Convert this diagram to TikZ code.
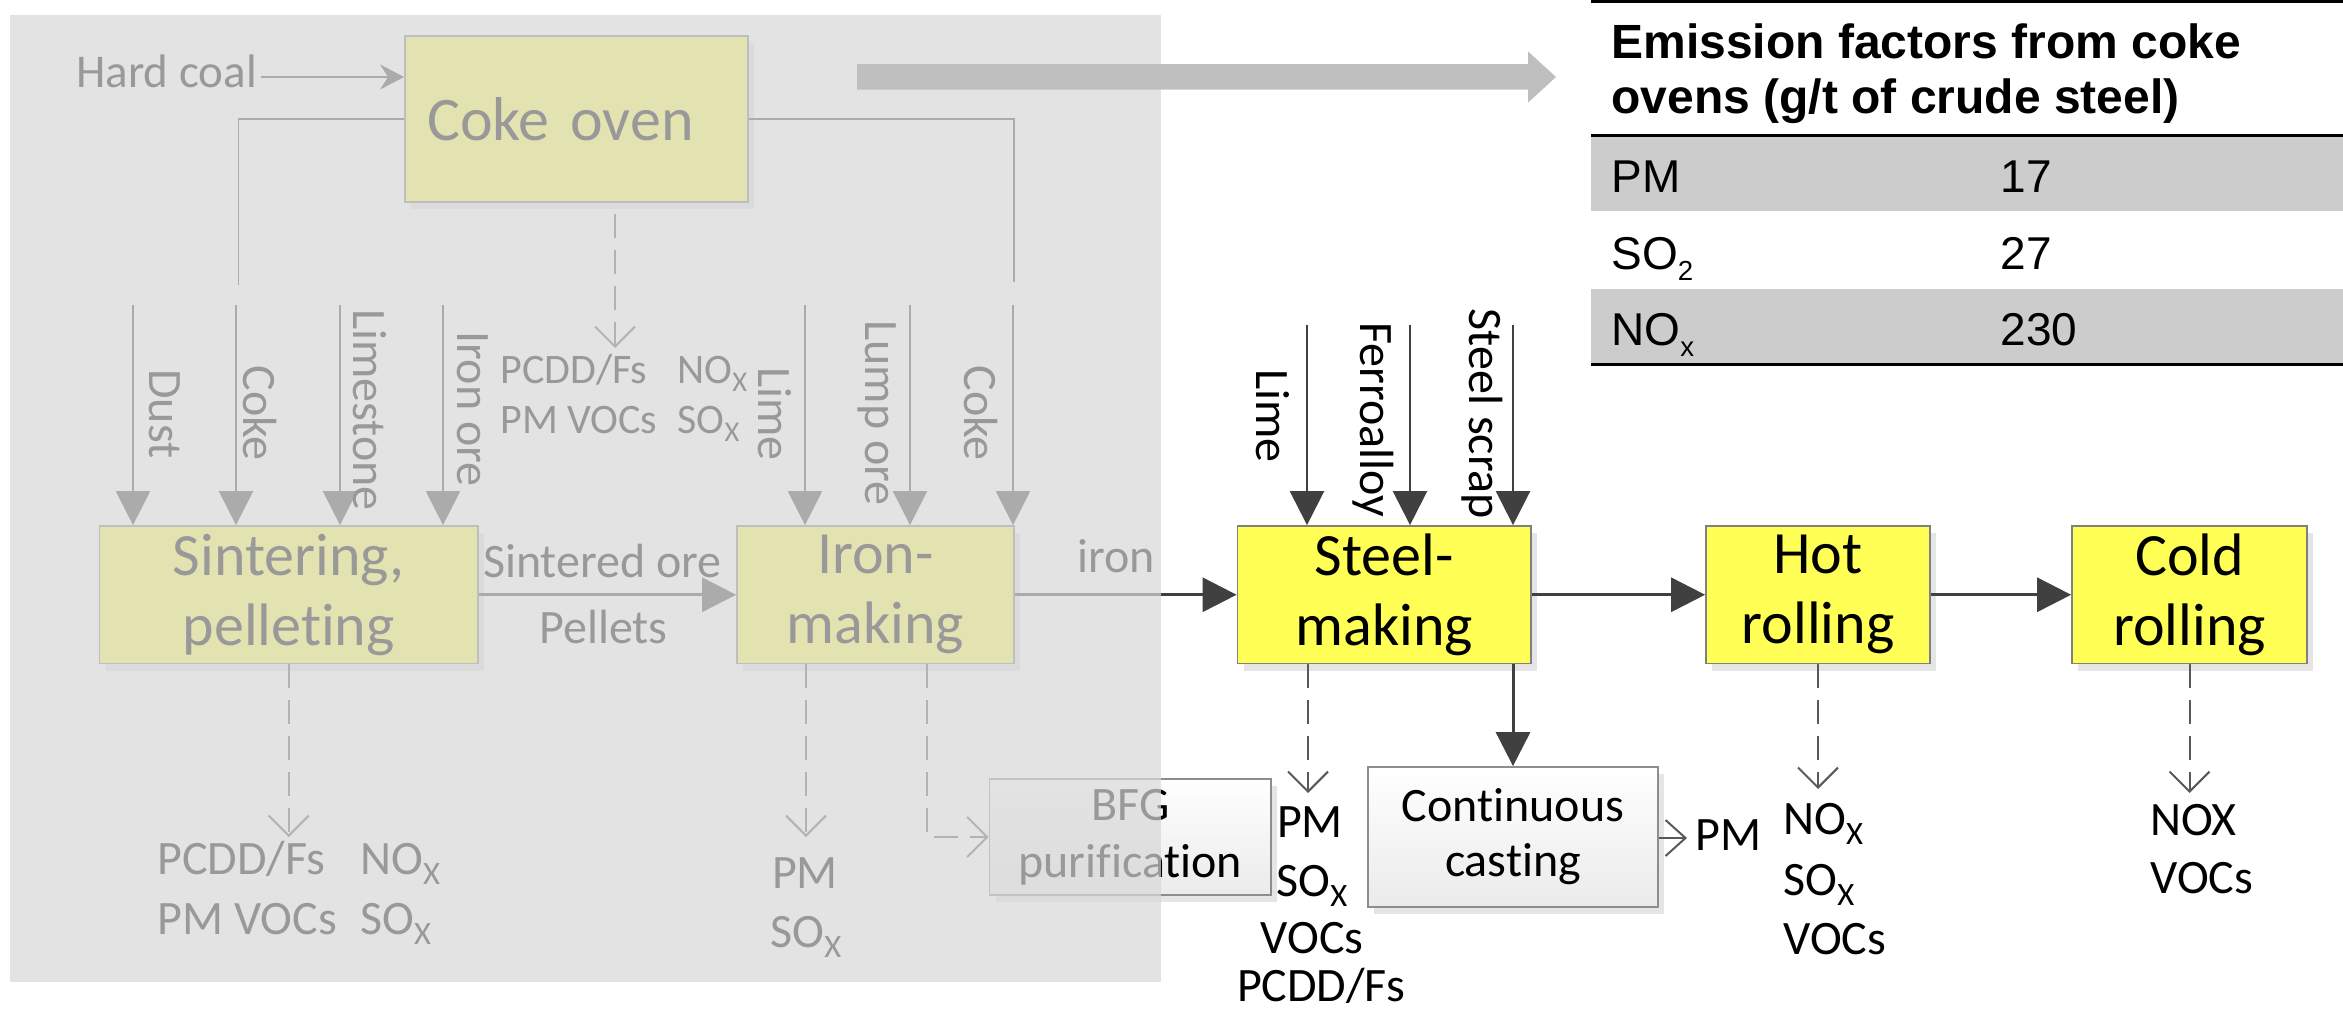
\documentclass[tikz,border=0pt]{standalone}
\usepackage{fontspec}
\usepackage{graphicx}
\setmainfont{Carlito}[Ligatures=CommonOff]
\newfontfamily\arialf{Liberation Sans}
\usetikzlibrary{arrows.meta,shadows}
\definecolor{boxyellow}{RGB}{255,255,85}
\definecolor{boxline}{RGB}{128,128,128}
\definecolor{flowc}{RGB}{64,64,64}
\definecolor{dashc}{RGB}{89,89,89}
\definecolor{veil}{RGB}{216,216,216}
\definecolor{bigarrow}{RGB}{191,191,191}
\definecolor{rowgray}{RGB}{204,204,204}
\newcommand\subX[1]{\raisebox{-0.21em}{\scalebox{0.68}{#1}}}
\newcommand\subT[1]{\raisebox{-0.25em}{\scalebox{0.6}{#1}}}
\begin{document}
\begin{tikzpicture}[x=0.5pt,y=-0.5pt,
  procbox/.style={draw=boxline, line width=0.9pt, fill=boxyellow, align=center, inner sep=0pt,
     font=\fontsize{30pt}{35pt}\selectfont, minimum height=68.75pt,
     drop shadow={shadow xshift=3pt, shadow yshift=-3.5pt, fill=black, opacity=0.1}},
  greybox/.style={draw=boxline!90, line width=0.9pt, top color=white, bottom color=black!8,
     align=center, inner sep=0pt,
     drop shadow={shadow xshift=3pt, shadow yshift=-3.5pt, fill=black, opacity=0.1}},
  lbl/.style={inner sep=0pt, font=\fontsize{24pt}{29pt}\selectfont},
  smlbl/.style={inner sep=0pt, font=\fontsize{21pt}{25pt}\selectfont},
  rlbl/.style={lbl, rotate=-90},
  flow/.style={draw=flowc, line width=1.5pt, -{Triangle[length=17pt,width=17pt]}},
  feed/.style={draw=flowc, line width=1.2pt, -{Triangle[length=17pt,width=17pt]}},
  coalarrow/.style={draw=flowc, line width=1pt, -{Stealth[length=12pt,width=12.5pt,inset=4pt]}},
  thinline/.style={draw=flowc, line width=0.8pt},
  emis/.style={draw=dashc, line width=1pt, dash pattern=on 12pt off 6pt,
     -{Straight Barb[length=10pt,width=20pt]}},
  emissolid/.style={draw=dashc, line width=1pt, -{Straight Barb[length=10pt,width=18pt]}},
  thead/.style={inner sep=0pt, font=\arialf\bfseries\fontsize{24pt}{28pt}\selectfont},
  trow/.style={inner sep=0pt, font=\arialf\fontsize{23pt}{27pt}\selectfont}
]
% canvas
\fill[white] (0,0) rectangle (2343,1013);
\useasboundingbox (0,0) rectangle (2343,1013);

% ---------------- table ----------------
\fill[rowgray] (1591,135) rectangle (2343,211);
\fill[rowgray] (1591,288.5) rectangle (2343,364);
\draw[line width=1.5pt] (1591,1.5) -- (2343,1.5);
\draw[line width=1.5pt] (1591,135) -- (2343,135);
\draw[line width=1.5pt] (1591,364) -- (2343,364);
\node[thead, anchor=base west] (th1) at (1611,58) {Emission factors from coke};
\node[thead, anchor=base west] (th2) at (1611,113) {ovens (g/t of crude steel)};
\node[trow, anchor=base west] (r1a) at (1611,192) {PM};
\node[trow, anchor=base west] (r1b) at (2000,192) {17};
\node[trow, anchor=base west] (r2a) at (1611,269) {SO\subT{2}};
\node[trow, anchor=base west] (r2b) at (2000,269) {27};
\node[trow, anchor=base west] (r3a) at (1611,345) {NO\subT{x}};
\node[trow, anchor=base west] (r3b) at (2000,345) {230};

% ---------------- process boxes ----------------
\node[procbox, minimum width=171.5pt, minimum height=83pt, text width=149.5pt, align=left,
      inner xsep=11pt, font=\fontsize{31pt}{36pt}\selectfont] (coke) at (576.5,119) {Coke oven};
\node[procbox, minimum width=189.25pt] (sint) at (288.75,594.75) {Sintering,\\pelleting};
\node[procbox, minimum width=138.5pt] (iron) at (875.5,594.75) {Iron-\\making};
\node[procbox, minimum width=146.75pt] (steel) at (1384.25,594.75) {Steel-\\making};
\node[procbox, minimum width=112pt] (hot) at (1818,594.75) {Hot\\rolling};
\node[procbox, minimum width=117.5pt] (cold) at (2189.5,594.75) {Cold\\rolling};
\node[greybox, minimum width=145pt, minimum height=70pt, font=\fontsize{24pt}{27.5pt}\selectfont]
      (cc) at (1513,837) {Continuous\\casting};
\node[greybox, minimum width=140.75pt, minimum height=58pt, font=\fontsize{24pt}{28.5pt}\selectfont]
      (bfg) at (1130.25,837) {BFG\\purification};

% ---------------- hard coal & coke distribution ----------------
\node[lbl, anchor=base west, font=\fontsize{23.5pt}{28pt}\selectfont] (hardcoal) at (76,87) {Hard coal};
\coordinate (hc) at (261,77);
\draw[coalarrow] (hc) -- (hc -| coke.west);
\coordinate (cl1) at (238.5,119);
\coordinate (cl2) at (238.5,285);
\coordinate (cr1) at (1014,119);
\coordinate (cr2) at (1014,282);
\draw[thinline] (coke.west) -- (cl1) -- (cl2);
\draw[thinline] (coke.east) -- (cr1) -- (cr2);

% ---------------- feed arrows ----------------
\foreach \nm/\xx in {fDust/133,fCoke/236,fLime/340,fOre/443}{
  \coordinate (\nm) at (\xx,305);
  \draw[feed] (\nm) -- (\nm |- sint.north);
}
\foreach \nm/\xx in {gLime/805,gLump/910,gCoke/1013}{
  \coordinate (\nm) at (\xx,305);
  \draw[feed] (\nm) -- (\nm |- iron.north);
}
\foreach \nm/\xx in {sLime/1307,sFerro/1410,sScrap/1513}{
  \coordinate (\nm) at (\xx,325);
  \draw[feed] (\nm) -- (\nm |- steel.north);
}
\node[rlbl] (tDust) at (165,414) {Dust};
\node[rlbl] (tCoke) at (260,413) {Coke};
\node[rlbl] (tLimestone) at (370,410) {Limestone};
\node[rlbl] (tIronore) at (473,409) {Iron ore};
\node[rlbl] (tLime) at (775,414) {Lime};
\node[rlbl] (tLump) at (877,413) {Lump ore};
\node[rlbl] (tCoke2) at (981,413) {Coke};
\node[rlbl] (tLime2) at (1273,416) {Lime};
\node[rlbl] (tFerro) at (1373,420) {Ferroalloy};
\node[rlbl] (tScrap) at (1482,414) {Steel scrap};

% ---------------- main flow ----------------
\draw[flow] (sint.east) -- (iron.west);
\draw[flow] (iron.east) -- (steel.west);
\draw[flow] (steel.east) -- (hot.west);
\draw[flow] (hot.east) -- (cold.west);
\draw[flow] (steel.south -| cc.north) -- (cc.north);
\node[lbl, anchor=base] (tSintered) at (602.5,577) {Sintered ore};
\node[lbl, anchor=base] (tPellets) at (603.5,643) {Pellets};
\node[lbl, anchor=base west] (tIron) at (1077,572) {iron};

% ---------------- emissions ----------------
\coordinate (cokeDs) at (615,214);
\coordinate (cokeEm) at (615,348);
\draw[emis] (cokeDs) -- (cokeEm);
\node[smlbl, anchor=base west] (ce1) at (500,383) {PCDD/Fs};
\node[smlbl, anchor=base west] (ce2) at (677,383) {NO\subX{X}};
\node[smlbl, anchor=base west] (ce3) at (500,433) {PM VOCs};
\node[smlbl, anchor=base west] (ce4) at (677,433) {SO\subX{X}};

\coordinate (sintEm) at (288.75,837);
\draw[emis] (sint.south) -- (sintEm);
\node[lbl, anchor=base west] (se1) at (157,874) {PCDD/Fs};
\node[lbl, anchor=base west] (se2) at (360,874) {NO\subX{X}};
\node[lbl, anchor=base west] (se3) at (157,934) {PM VOCs};
\node[lbl, anchor=base west] (se4) at (360,934) {SO\subX{X}};

\coordinate (ironD1) at (806,663.5);
\coordinate (ironEm) at (806,837);
\draw[emis] (ironD1) -- (ironEm);
\node[lbl, anchor=base] (ie1) at (805,888) {PM};
\node[lbl, anchor=base] (ie2) at (806,947) {SO\subX{X}};
\coordinate (ironD2) at (927,663.5);
\draw[emis] (ironD2) |- (bfg.west);

\coordinate (steelD) at (1308,663.5);
\coordinate (steelEm) at (1308,793);
\draw[emis] (steelD) -- (steelEm);
\node[lbl, anchor=base] (st1) at (1310,837) {PM};
\node[lbl, anchor=base] (st2) at (1312,896) {SO\subX{X}};
\node[lbl, anchor=base] (st3) at (1312,953) {VOCs};
\node[lbl, anchor=base] (st4) at (1321,1001) {PCDD/Fs};

\coordinate (hotEm) at (1818,789);
\draw[emis] (hot.south) -- (hotEm);
\node[lbl, anchor=base west] (he1) at (1783,834) {NO\subX{X}};
\node[lbl, anchor=base west] (he2) at (1783,895) {SO\subX{X}};
\node[lbl, anchor=base west] (he3) at (1783,954) {VOCs};

\coordinate (coldEm) at (2189.5,793);
\draw[emis] (cold.south) -- (coldEm);
\node[lbl, anchor=base west] (ke1) at (2150,835) {NOX};
\node[lbl, anchor=base west] (ke2) at (2150,893) {VOCs};

\coordinate (ccEm) at (1687,838);
\draw[emissolid] (cc.east |- ccEm) -- (ccEm);
\node[lbl, anchor=base west] (ccpm) at (1695,850) {PM};

% ---------------- veil over the upstream part ----------------
\fill[veil, fill opacity=0.71] (10,15) rectangle (1161,982);

% ---------------- big grey arrow ----------------
\fill[bigarrow] (857,64) -- (1528,64) -- (1528,51.4) -- (1556,77) -- (1528,102.6)
  -- (1528,89.5) -- (857,89.5) -- cycle;
\end{tikzpicture}
\end{document}
